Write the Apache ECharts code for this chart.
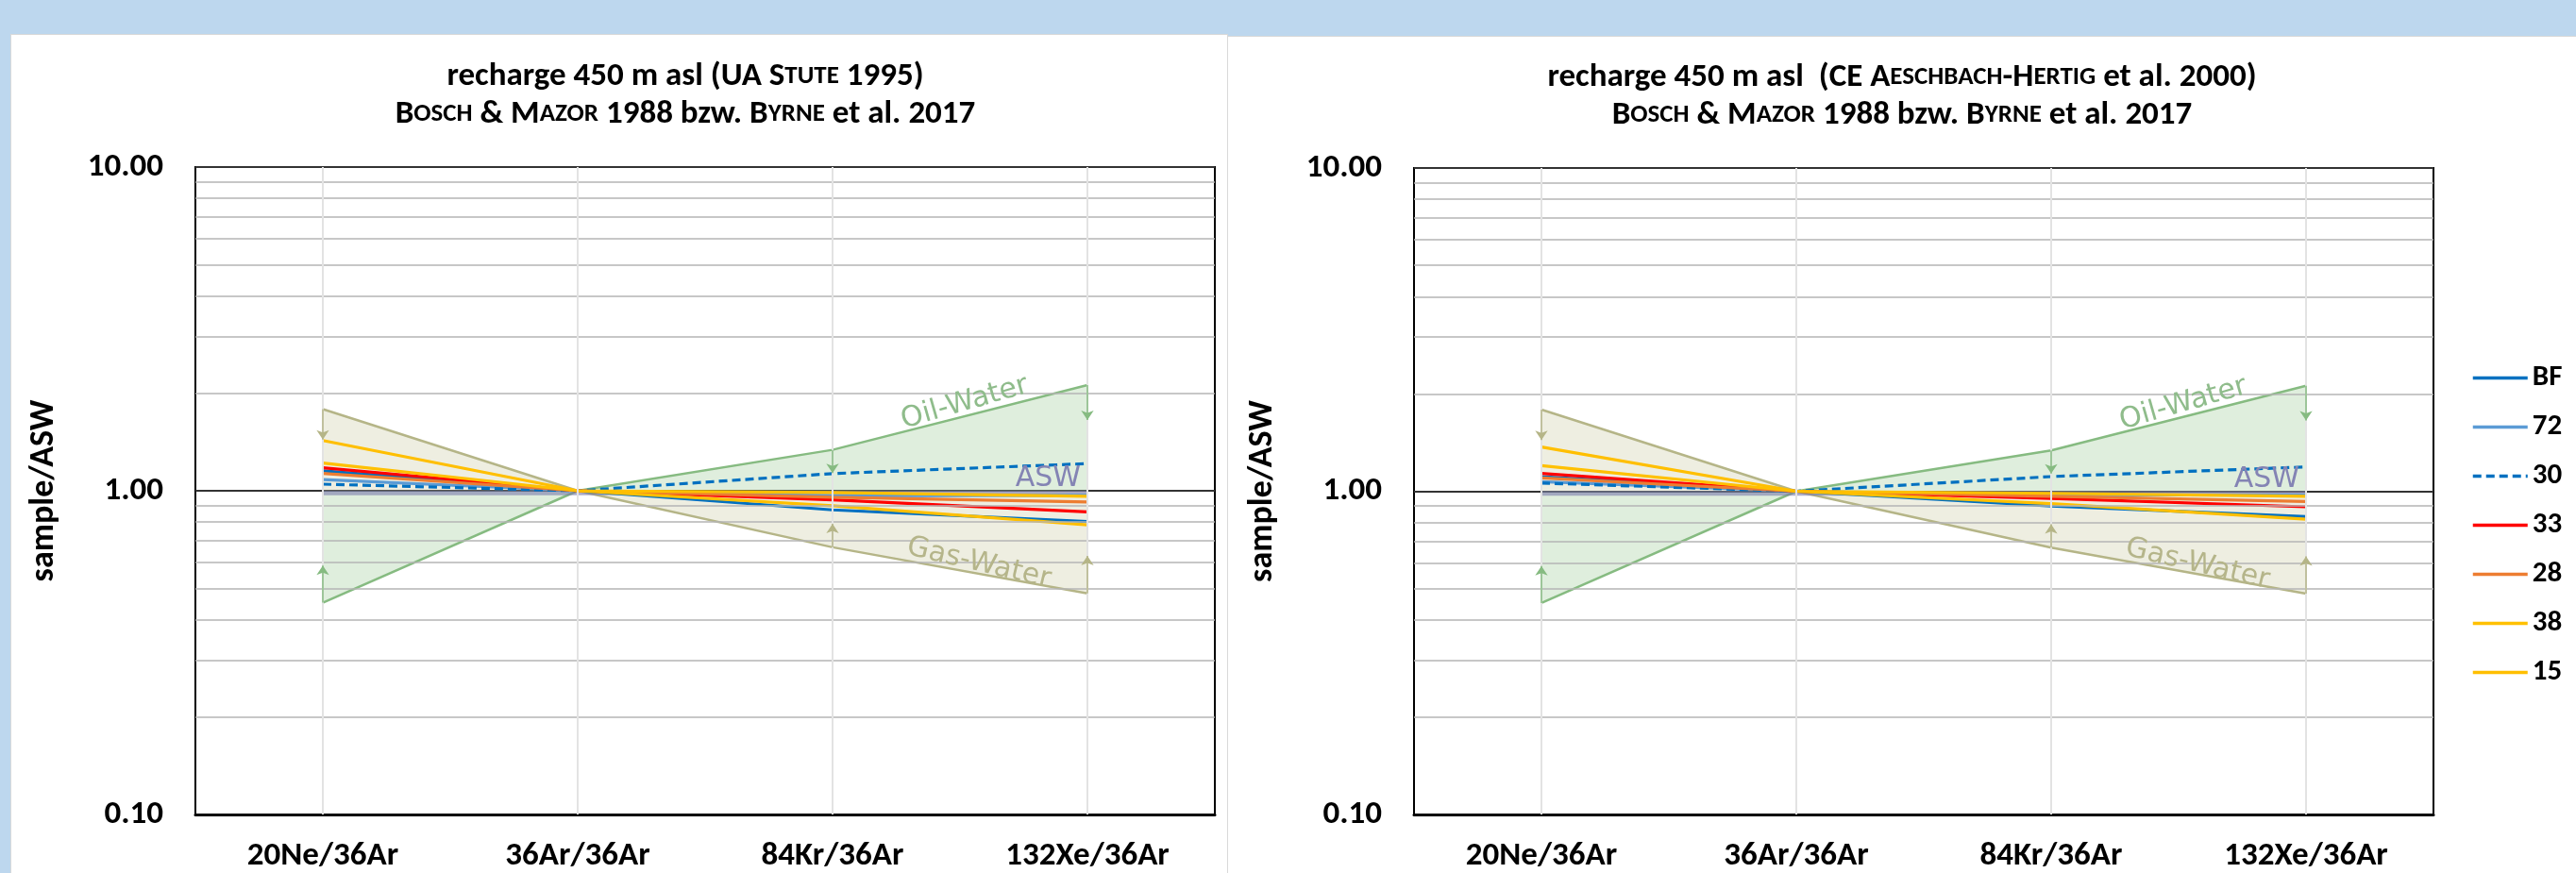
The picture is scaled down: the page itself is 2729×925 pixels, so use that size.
<!DOCTYPE html>
<html>
<head>
<meta charset="utf-8">
<script src="https://cdn.jsdelivr.net/npm/echarts@6/dist/echarts.min.js"></script>
<style>
html, body { margin: 0; padding: 0; background: #bdd7ee; overflow: hidden; }
.panel { position: absolute; background: #fff; border: 1px solid #d9d9d9; box-sizing: border-box; }
#main { position: absolute; left: 0; top: 0; width: 2729px; height: 925px; }
</style>
</head>
<body>
<div class="panel" style="left:11px; top:36px; width:1290px; height:920px;"></div>
<div class="panel" style="left:1300px; top:38px; width:1440px; height:920px;"></div>
<div id="main"></div>
<script>
// categories
var ratios = ['20Ne/36Ar', '36Ar/36Ar', '84Kr/36Ar', '132Xe/36Ar'];
var sampleNames = ['BF', '72', '30', '33', '28', '38', '15'];
var sampleColors = ['#0070c0', '#5b9bd5', '#0070c0', '#ff0000', '#ed7d31', '#ffc000', '#ffbf00'];

// left chart: UA (Stute 1995)
var uaBF = [1.152, 1, 0.873, 0.803];
var ua72 = [1.083, 1, 0.965, 0.968];
var ua30 = [1.048, 1, 1.13, 1.213];
var ua33 = [1.178, 1, 0.937, 0.86];
var ua28 = [1.132, 1, 0.955, 0.923];
var ua38 = [1.218, 1, 0.987, 0.961];
var ua15 = [1.43, 1, 0.899, 0.785];

// right chart: CE (Aeschbach-Hertig et al. 2000)
var ceBF = [1.11, 1, 0.9, 0.835];
var ce72 = [1.07, 1, 0.975, 0.972];
var ce30 = [1.06, 1, 1.11, 1.189];
var ce33 = [1.135, 1, 0.95, 0.895];
var ce28 = [1.10, 1, 0.965, 0.929];
var ce38 = [1.20, 1, 0.985, 0.965];
var ce15 = [1.37, 1, 0.915, 0.819];

// fractionation envelopes
var oilWater = [0.451, 1, 1.338, 2.12];
var gasWater = [1.788, 1, 0.669, 0.482];
var aswBand = [0.985, 0.985, 0.985, 0.985];
var arrowCats = ['20Ne/36Ar', '84Kr/36Ar', '132Xe/36Ar'];
var oilArrowFrom = [0.451, 1.338, 2.12];
var oilArrowTo = [0.587, 1.135, 1.655];
var gasArrowFrom = [1.788, 0.669, 0.482];
var gasArrowTo = [1.44, 0.79, 0.629];

// y gridlines
var minorTicks = [0.2, 0.3, 0.4, 0.5, 0.6, 0.7, 0.8, 0.9, 2, 3, 4, 5, 6, 7, 8, 9];

var boldFont = 'Carlito, Lato, sans-serif';
var annoFont = '"DejaVu Sans", sans-serif';

var chart = echarts.init(document.getElementById('main'));

function buildSeries(gi, samples) {
	var list = [];
	// grid lines
	list.push({
		type: 'line', xAxisIndex: gi, yAxisIndex: gi, data: [], z: 1, silent: true,
		markLine: {
			silent: true, symbol: 'none', animation: false, label: { show: false },
			lineStyle: { color: '#b4b4b4', width: 1.5, type: 'solid' },
			data: minorTicks.map(function (v) { return { yAxis: v }; }).concat(
				ratios.map(function (c) { return { xAxis: c, lineStyle: { color: '#e3e3e3', width: 2, type: 'solid' } }; }))
		}
	});
	// gas-water envelope
	list.push({
		name: 'Gas-Water', type: 'line', xAxisIndex: gi, yAxisIndex: gi, data: gasWater, symbol: 'none', z: 2, silent: true,
		lineStyle: { color: '#b5b587', width: 2.5 },
		areaStyle: { color: 'rgba(175,175,115,0.3)', origin: 1 },
		markLine: {
			silent: true, symbol: ['none', 'arrow'], symbolSize: 10, animation: false, label: { show: false },
			lineStyle: { color: '#b5b587', width: 1.5, type: 'solid' },
			data: arrowCats.map(function (c, j) { return [{ coord: [c, gasArrowFrom[j]] }, { coord: [c, gasArrowTo[j]] }]; })
		}
	});
	// oil-water envelope
	list.push({
		name: 'Oil-Water', type: 'line', xAxisIndex: gi, yAxisIndex: gi, data: oilWater, symbol: 'none', z: 2, silent: true,
		lineStyle: { color: '#86bb81', width: 2.5 },
		areaStyle: { color: 'rgba(125,185,115,0.35)', origin: 1 },
		markLine: {
			silent: true, symbol: ['none', 'arrow'], symbolSize: 10, animation: false, label: { show: false },
			lineStyle: { color: '#86bb81', width: 1.5, type: 'solid' },
			data: arrowCats.map(function (c, j) { return [{ coord: [c, oilArrowFrom[j]] }, { coord: [c, oilArrowTo[j]] }]; })
		}
	});
	// ASW band
	list.push({
		name: 'ASW', type: 'line', xAxisIndex: gi, yAxisIndex: gi, data: aswBand, symbol: 'none', z: 3, silent: true,
		lineStyle: { color: 'rgba(120,120,170,0.6)', width: 5 }
	});
	samples.forEach(function (vals, i) {
		list.push({
			name: sampleNames[i], type: 'line', xAxisIndex: gi, yAxisIndex: gi, data: vals, symbol: 'none', z: 4,
			lineStyle: { color: sampleColors[i], width: 3.2, type: sampleNames[i] === '30' ? [9, 5] : 'solid' },
			itemStyle: { color: sampleColors[i] }
		});
	});
	return list;
}

function xAxisOf(gi) {
	return {
		type: 'category', gridIndex: gi, data: ratios, boundaryGap: true,
		axisTick: { show: false },
		axisLine: { lineStyle: { color: '#000', width: 3 } },
		axisLabel: { margin: 27, color: '#000', fontSize: 35, fontWeight: 'bold', fontFamily: boldFont },
		splitLine: { show: false }
	};
}
function yAxisOf(gi) {
	return {
		type: 'log', logBase: 10, gridIndex: gi, min: 0.1, max: 10, interval: 1,
		name: 'sample/ASW', nameLocation: 'middle', nameRotate: 90, nameGap: 142,
		nameTextStyle: { color: '#000', fontSize: 36, fontWeight: 'bold', fontFamily: boldFont },
		axisLine: { show: false }, axisTick: { show: false },
		axisLabel: { margin: 34, color: '#000', fontSize: 35, fontWeight: 'bold', fontFamily: boldFont,
			formatter: function (v) { return Number(v).toFixed(2); } },
		splitLine: { lineStyle: { color: '#333', width: 2 } }
	};
}

function title(x, y, text) {
	return {
		type: 'text', x: x, y: y, z: 100,
		style: { text: text, rich: titleRich, align: 'center', verticalAlign: 'middle', fill: '#000' }
	};
}
var titleRich = {
	n: { fontSize: 35, fontWeight: 'bold', fontFamily: boldFont, fill: '#000' },
	s: { fontSize: 27, fontWeight: 'bold', fontFamily: boldFont, fill: '#000' }
};
function anno(x, y, text, color, rot, align) {
	return {
		type: 'text', x: x, y: y, rotation: rot, z: 50, silent: true,
		style: { text: text, fill: color, font: '30px ' + annoFont, align: align || 'center', verticalAlign: 'middle' }
	};
}

var line2 = '{n|B}{s|OSCH}{n| & M}{s|AZOR}{n| 1988 bzw. B}{s|YRNE}{n| et al. 2017}';

var option = {
	animation: false,
	grid: [
		{ left: 207, top: 177, width: 1080, height: 692, show: true, borderColor: '#000', borderWidth: 2, backgroundColor: 'transparent' },
		{ left: 1498, top: 178, width: 1080, height: 692, show: true, borderColor: '#000', borderWidth: 2, backgroundColor: 'transparent' }
	],
	xAxis: [xAxisOf(0), xAxisOf(1)],
	yAxis: [yAxisOf(0), yAxisOf(1)],
	legend: {
		data: sampleNames, orient: 'vertical', left: 2613, top: 380,
		itemWidth: 58, itemHeight: 30, itemGap: 21,
		itemStyle: { opacity: 0 },
		lineStyle: { width: 3.5 },
		textStyle: { color: '#000', fontSize: 31, fontWeight: 'bold', fontFamily: boldFont, lineHeight: 30 }
	},
	graphic: [
		title(726, 81, '{n|recharge 450 m asl (UA S}{s|TUTE}{n| 1995)}'),
		title(726, 121, line2),
		title(2015, 82, '{n|recharge 450 m asl  (CE A}{s|ESCHBACH}{n|-H}{s|ERTIG}{n| et al. 2000)}'),
		title(2015, 122, line2),
		anno(1022, 427, 'Oil-Water', '#8fbc8b', 0.28),
		anno(1037, 597, 'Gas-Water', '#b5b58a', -0.23),
		anno(1145, 507, 'ASW', '#8484b4', 0, 'right'),
		anno(1022 + 1291, 428, 'Oil-Water', '#8fbc8b', 0.28),
		anno(1037 + 1291, 598, 'Gas-Water', '#b5b58a', -0.23),
		anno(1145 + 1291, 508, 'ASW', '#8484b4', 0, 'right')
	],
	series: buildSeries(0, [uaBF, ua72, ua30, ua33, ua28, ua38, ua15])
		.concat(buildSeries(1, [ceBF, ce72, ce30, ce33, ce28, ce38, ce15]))
};
chart.setOption(option);
</script>
</body>
</html>
